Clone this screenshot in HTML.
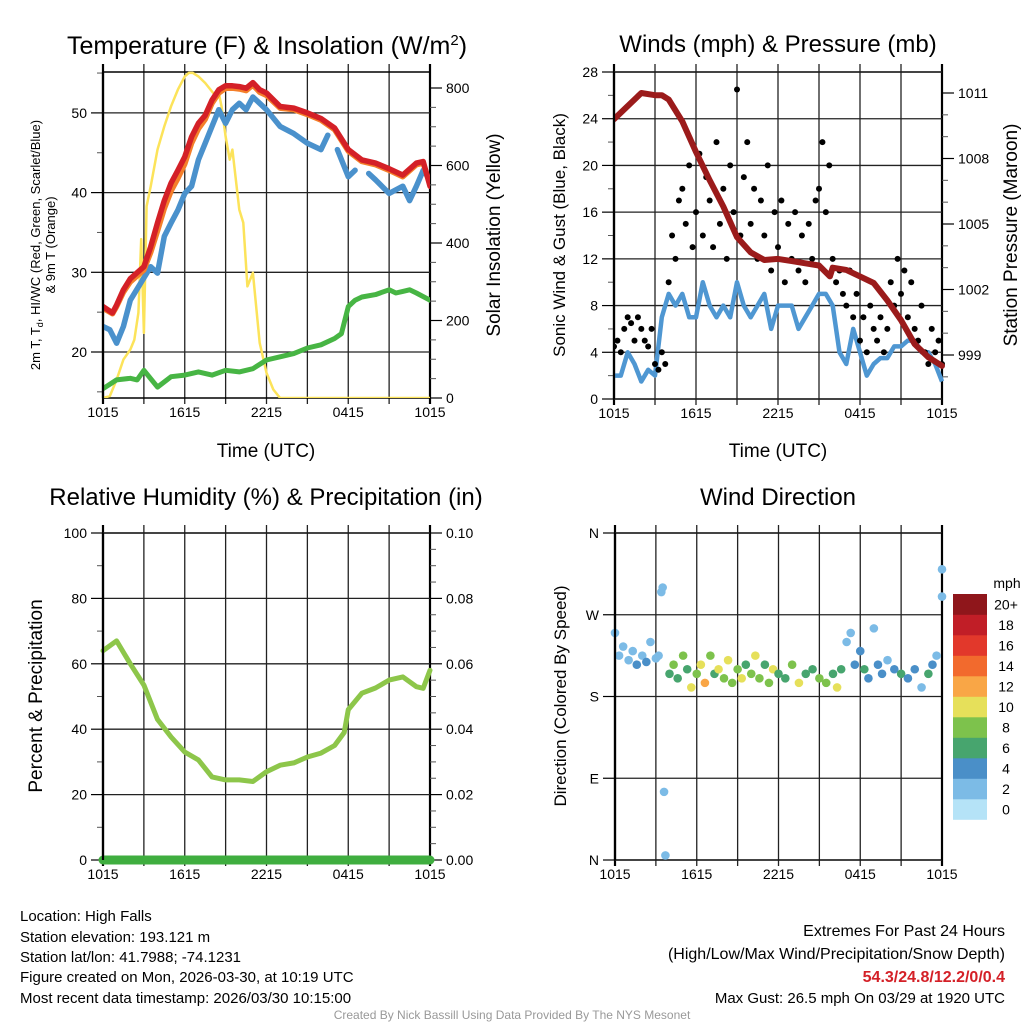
<!DOCTYPE html>
<html><head><meta charset="utf-8">
<style>
html,body{margin:0;padding:0;background:#fff;}
svg{display:block;font-family:"Liberation Sans",sans-serif;}
</style></head>
<body>
<svg id="chart" width="1024" height="1024" viewBox="0 0 1024 1024" xmlns="http://www.w3.org/2000/svg">
</svg>
<script>
// ---------- DATA ----------
const timeTickLabels = ["1015","1615","2215","0415","1015"];
const tempHours = [0,0.7,1,1.5,2,3,3.5,4,4.5,5,5.5,6,6.5,7,7.5,8,8.5,9,9.5,10,10.5,11,11.5,12,13,14,15,16,17,18,19,20,21,22,23,23.5,24];
const tempRed   = [25.7,24.9,25.9,27.8,29.2,30.7,33.2,36.2,39,41.2,42.8,44.5,47,48.7,49.7,51.6,52.9,53.4,53.4,53.3,53.1,53.8,52.9,52.5,50.8,50.6,50,49.3,48.1,45.4,44.1,43.7,43,42.2,43.7,43.9,40.8];
const tempOrange= [25.5,24.8,25.7,27.5,28.8,30.3,32.5,35.2,38,40.2,41.8,43.6,46.2,48,49.2,51.2,52.5,53.1,53.1,53,52.8,53.5,52.6,52.2,50.6,50.4,49.8,49.1,47.9,45.2,43.9,43.5,42.8,42,43.5,43.7,41];
const blueHours = [0,0.5,1,1.5,2,3.5,4,4.5,5,5.5,6,6.5,7,7.5,8,8.5,9,9.5,10,10.5,11,11.5,12,13,14,15,16,16.5,null,17.2,18,18.5,null,19.5,20,21,22,22.5,23,23.5,24];
const tempBlue  = [23.2,22.8,21.1,23.2,26.5,30.7,29.9,34.5,36.2,37.8,39.9,40.8,44.1,46.2,48.3,50.4,48.7,50.4,51.2,50.4,52,51.2,50.4,48.3,47.4,46.2,45.4,47.2,null,45.4,42,42.8,null,42.4,41.6,39.9,40.8,39,40.8,42.8,41.6];
const greenHours= [0,1,2,2.5,3,4,5,6,7,8,9,10,11,12,13,14,15,16,17,17.5,18,18.5,19,20,21,21.5,22,22.5,23,24];
const tempGreen = [15.4,16.5,16.7,16.5,17.7,15.6,16.9,17.1,17.5,17.1,17.7,17.5,17.9,19,19.4,19.8,20.5,20.9,21.7,22.3,25.7,26.5,26.9,27.2,27.8,27.4,27.6,27.8,27.4,26.5];
const solarHours= [0,0.5,1,1.5,2,2.3,2.6,2.8,3,3.2,3.5,4,4.5,5,5.5,6,6.3,6.6,7,7.5,8,8.3,8.5,8.7,9,9.3,9.5,10,10.3,10.6,11,11.5,12,12.5,13,24];
const solarVals = [0,5,47,99,125,150,220,410,168,495,546,641,701,753,796,830,839,839,830,813,791,778,787,753,675,615,641,486,452,288,323,142,65,22,0,0];
const windHours = [0,0.5,1,1.5,2,2.5,3,3.5,4,4.5,5,5.5,6,6.5,7,7.5,8,8.5,9,9.5,10,10.5,11,11.5,12,12.5,13,13.5,14,14.5,15,15.5,16,16.5,17,17.5,18,18.5,19,19.5,20,20.5,21,21.5,22,22.5,23,23.5,24];
const windSpeed = [2,2,4,3,1.5,2.5,2,7,9,8,9,7,7,10,8,7,8,7,10,8,7,8,9,6,8,8,8,6,7,8,9,9,8,4,3,6,4,2,3,3.5,3.5,4.5,4.5,5,5,4,4,3,1.5];
const gustVals = [4.5,5,4,6,7,6.5,5,7,6,5,4.5,6,3,2.5,4,3,10,14,12,17,18,15,20,13,16,21,14,19,17,13,22,15,18,12,20,16,26.5,14,19,22,15,18,12,17,14,20,11,16,13,17,10,15,12,16,11,14,10,15,12,17,18,22,16,20,12,10,11,9,8,11,7,9,5,7,4,8,6,5,7,4,6,10,8,12,9,11,7,10,6,5,8,4,3,6,4,5,3];
const presHours = [0,1,2,3,3.5,4,5,6,7,8,9,10,11,12,13,14,15,15.8,16,17,18,19,20,21,22,23,24];
const presVals  = [1009.8,1010.4,1011,1010.9,1010.9,1010.7,1009.7,1008.3,1007,1005.8,1004.4,1003.7,1003.35,1003.4,1003.3,1003.2,1003.1,1002.6,1003,1002.9,1002.6,1002.3,1001.5,1000.6,999.5,998.9,998.5];
const rhHours = [0,1,2,3,4,5,6,7,8,9,10,11,12,13,14,15,16,17,17.7,18,19,20,21,22,23,23.5,24];
const rhVals  = [64,67,60,53.5,43,37.6,33,30.6,25.4,24.5,24.5,24,27,29,29.7,31.5,32.7,35,39,46,51,52.6,55,56,53,52.5,58];
const precipHours = [0,24];
const precipVals  = [0,0];
const dirHours = [0,0.3,0.6,1,1.3,1.6,2,2.3,2.6,3,3.2,3.4,3.5,3.6,3.7,4,4.3,4.6,5,5.3,5.6,6,6.3,6.6,7,7.3,7.6,8,8.3,8.6,9,9.3,9.6,10,10.3,10.6,11,11.3,11.6,12,12.5,13,13.5,14,14.5,15,15.5,16,16.3,16.6,17,17.3,17.6,18,18.3,18.6,19,19.3,19.6,20,20.5,21,21.5,22,22.5,23,23.3,23.6,24,24];
const dirDeg = [250,225,235,220,230,215,225,218,240,222,225,295,300,75,5,205,215,200,225,210,190,205,215,195,225,205,210,200,220,195,210,200,215,205,225,200,215,195,210,205,200,215,195,205,210,200,195,205,190,210,240,250,215,230,210,200,255,215,205,220,210,205,200,210,190,205,215,225,290,320];
const dirSpd = [3,2,2,3,2,4,3,4,2,3,2,2,2,2,2,7,8,6,9,7,11,8,10,12,9,7,11,8,10,9,8,11,7,9,10,8,7,9,11,6,7,8,10,6,7,9,8,6,10,7,3,2,5,4,6,4,2,5,4,3,4,6,5,4,2,6,4,3,2,2];
const cbLabels = ["0","2","4","6","8","10","12","14","16","18","20+"];
const cbColors = ["#b5e3f7","#7cbbe6","#4a8fc8","#47a56e","#7dc24c","#e6e05a","#f9a646","#f26a2d","#e2382b","#c11e27","#8f161b"];

// ---------- HELPERS ----------
const NS="http://www.w3.org/2000/svg";
const svg=document.getElementById('chart');
function mk(tag,attrs,parent){const e=document.createElementNS(NS,tag);for(const k in attrs)e.setAttribute(k,attrs[k]);(parent||svg).appendChild(e);return e;}
function txt(s,x,y,size,anchor,parent,extra){const t=mk('text',Object.assign({x:x,y:y,'font-size':size,'text-anchor':anchor||'middle',fill:'#000'},extra||{}),parent);t.textContent=s;return t;}
function lin(d0,d1,r0,r1){return v=>r0+(v-d0)*(r1-r0)/(d1-d0);}
function pathFrom(xs,ys,fx,fy){let d='',pen=false;for(let i=0;i<xs.length;i++){if(xs[i]===null||ys[i]===null){pen=false;continue;}d+=(pen?'L':'M')+fx(xs[i]).toFixed(1)+','+fy(ys[i]).toFixed(1);pen=true;}return d;}
function spdColor(s){let i=Math.floor(s/2);if(i>10)i=10;if(i<0)i=0;return cbColors[i];}

function frame(g,L,R,T,B){
  const fx=lin(0,24,L,R);
  for(let h=0;h<=24;h+=3){
    const x=fx(h);
    const gl=mk('line',{x1:x,y1:T-8,x2:x,y2:B+6,stroke:(h===0||h===24)?'#000':'#222','stroke-width':(h===0||h===24)?2.2:1.3},g);
    
    
  }
  const tl=mk('line',{x1:L,y1:T,x2:R,y2:T,stroke:'#000','stroke-width':1.6},g);
  
  const bl=mk('line',{x1:L,y1:B,x2:R,y2:B,stroke:'#000','stroke-width':1.6},g);
  
  for(let i=0;i<timeTickLabels.length;i++){
    const t=txt(timeTickLabels[i],fx(i*6),B+19,14,'middle',g);
    
  }
  return fx;
}
function yAxis(g,side,X,fy,T,B,majors,minors,labels,grid,L,R,name){
  const dir=side==='left'?-1:1;
  for(const v of minors){const y=fy(v);const m=mk('line',{x1:X,y1:y,x2:X+dir*6,y2:y,stroke:'#555','stroke-width':1},g);}
  majors.forEach((v,i)=>{const y=fy(v);
    if(grid){const gl=mk('line',{x1:L,y1:y,x2:R,y2:y,stroke:'#222','stroke-width':1.3},g);}
    const tk=mk('line',{x1:X,y1:y,x2:X+dir*12,y2:y,stroke:'#000','stroke-width':1.2},g);
    const t=txt(labels[i],X+dir*16,y+5,14,side==='left'?'end':'start',g);
  });
}
function range(a,b,s){const r=[];for(let v=a;v<=b+1e-9;v+=s)r.push(+v.toFixed(4));return r;}

// ---------- PANEL 1: TEMPERATURE ----------
(function(){
  const g=mk('g',{});
  const L=103,R=430,T=72,B=398;
  const fx=frame(g,L,R,T,B);
  const fy=lin(20,30,352,272.3);
  const fs=lin(0,800,398,88);
  yAxis(g,'left',L,fy,T,B,[20,30,40,50],[15,25,35,45,55],["20","30","40","50"],true,L,R,'temp-axis');
  yAxis(g,'right',R,fs,T,B,[0,200,400,600,800],range(50,750,50).filter(v=>v%200!==0),["0","200","400","600","800"],false,L,R,'solar-axis');
  const clip=mk('clipPath',{id:'c1'},g);mk('rect',{x:L,y:T-3,width:R-L,height:B-T+3},clip);
  const pg=mk('g',{'clip-path':'url(#c1)'},g);
  const sol=mk('path',{d:pathFrom(solarHours,solarVals,fx,fs),fill:'none',stroke:'#fce35a','stroke-width':2.5,'stroke-linejoin':'round'},pg);
  
  const gr=mk('path',{d:pathFrom(greenHours,tempGreen,fx,fy),fill:'none',stroke:'#47b544','stroke-width':5,'stroke-linejoin':'round','stroke-linecap':'round'},pg);
  
  const bl=mk('path',{d:pathFrom(blueHours,tempBlue,fx,fy),fill:'none',stroke:'#4a91cc','stroke-width':5.5,'stroke-linejoin':'round','stroke-linecap':'round'},pg);
  
  const or=mk('path',{d:pathFrom(tempHours,tempOrange,fx,fy),fill:'none',stroke:'#f47f2a','stroke-width':5.5,'stroke-linejoin':'round','stroke-linecap':'round'},pg);
  
  const rd=mk('path',{d:pathFrom(tempHours,tempRed,fx,fy),fill:'none',stroke:'#d42027','stroke-width':5.5,'stroke-linejoin':'round','stroke-linecap':'round'},pg);
  
  const lb=mk('line',{x1:L,y1:T,x2:L,y2:B,stroke:'#000','stroke-width':2.2},g);
  const t=mk('text',{x:267,y:54,'font-size':25,'text-anchor':'middle'},g);
  t.innerHTML='Temperature (F) &amp; Insolation (W/m<tspan dy="-9" font-size="15">2</tspan><tspan dy="9">)</tspan>';
  const xt=txt('Time (UTC)',266,457,19,'middle',g);
  const yl=mk('text',{transform:'translate(40,245) rotate(-90)','font-size':13,'text-anchor':'middle'},g);
  yl.innerHTML='2m T, T<tspan font-size="9" dy="3">d</tspan><tspan dy="-3">, HI/WC (Red, Green, Scarlet/Blue)</tspan>';
  const yl2=txt('& 9m T (Orange)',0,0,13,'middle',g,{transform:'translate(55,245) rotate(-90)'});
  const yr=txt('Solar Insolation (Yellow)',0,0,19,'middle',g,{transform:'translate(500,235) rotate(-90)'});
})();

// ---------- PANEL 2: WINDS ----------
(function(){
  const g=mk('g',{});
  const L=614,R=942,T=72,B=399;
  const fx=frame(g,L,R,T,B);
  const fy=lin(0,28,399,72);
  const fp=lin(999,1011,355,93);
  yAxis(g,'left',L,fy,T,B,range(0,28,4),range(2,26,4),range(0,28,4).map(String),true,L,R,'wind-axis');
  yAxis(g,'right',R,fp,T,B,[999,1002,1005,1008,1011],[998,1000,1001,1003,1004,1006,1007,1009,1010],["999","1002","1005","1008","1011"],false,L,R,'pressure-axis');
  const clip=mk('clipPath',{id:'c2'},g);mk('rect',{x:L,y:T-5,width:R-L+4,height:B-T+5},clip);
  const pg=mk('g',{'clip-path':'url(#c2)'},g);
  const ws=mk('path',{d:pathFrom(windHours,windSpeed,fx,fy),fill:'none',stroke:'#4f97d2','stroke-width':4.5,'stroke-linejoin':'round'},pg);
  
  gustVals.forEach((v,i)=>{const c=mk('circle',{cx:fx(i*0.25),cy:fy(v),r:3,fill:'#000'},pg);
    
    });
  const pr=mk('path',{d:pathFrom(presHours,presVals,fx,fp),fill:'none',stroke:'#9b1b1b','stroke-width':6,'stroke-linejoin':'round','stroke-linecap':'round'},pg);
  
  const lb=mk('line',{x1:L,y1:T,x2:L,y2:B,stroke:'#000','stroke-width':2.2},g);
  const t=txt('Winds (mph) & Pressure (mb)',778,52,24,'middle',g);
  const xt=txt('Time (UTC)',778,457,19,'middle',g);
  const yl=txt('Sonic Wind & Gust (Blue, Black)',0,0,17,'middle',g,{transform:'translate(565,235) rotate(-90)'});
  const yr=txt('Station Pressure (Maroon)',0,0,19,'middle',g,{transform:'translate(1017,235) rotate(-90)'});
})();

// ---------- PANEL 3: RH ----------
(function(){
  const g=mk('g',{});
  const L=103,R=430,T=533,B=860;
  const fx=frame(g,L,R,T,B);
  const fy=lin(0,100,860,533);
  const fpr=lin(0,0.1,860,533);
  yAxis(g,'left',L,fy,T,B,range(0,100,20),range(10,90,20),range(0,100,20).map(String),true,L,R,'rh-axis');
  yAxis(g,'right',R,fpr,T,B,range(0,0.1,0.02),range(0.005,0.095,0.005).filter(v=>Math.abs((v*100)%2)>0.01),["0.00","0.02","0.04","0.06","0.08","0.10"],false,L,R,'precip-axis');
  const rh=mk('path',{d:pathFrom(rhHours,rhVals,fx,fy),fill:'none',stroke:'#8dc64a','stroke-width':5,'stroke-linejoin':'round','stroke-linecap':'round'},g);
  
  const pc=mk('path',{d:pathFrom(precipHours,precipVals,fx,fpr),fill:'none',stroke:'#3fae3f','stroke-width':9,'stroke-linecap':'round'},g);
  
  const lb=mk('line',{x1:L,y1:T,x2:L,y2:B,stroke:'#000','stroke-width':2.2},g);
  const t=txt('Relative Humidity (%) & Precipitation (in)',266,505,24,'middle',g);
  const yl=txt('Percent & Precipitation',0,0,19,'middle',g,{transform:'translate(42,696) rotate(-90)'});
})();

// ---------- PANEL 4: WIND DIRECTION ----------
(function(){
  const g=mk('g',{});
  const L=615,R=942,T=533,B=860;
  const fx=frame(g,L,R,T,B);
  const fy=lin(0,360,860,533);
  yAxis(g,'left',L,fy,T,B,[0,90,180,270,360],[],["N","E","S","W","N"],true,L,R,'direction-axis');
  const rl=mk('line',{x1:R,y1:T,x2:R,y2:B,stroke:'#000','stroke-width':2},g);
  for(let i=0;i<dirHours.length&&i<dirDeg.length&&i<dirSpd.length;i++){
    const c=mk('circle',{cx:fx(dirHours[i]),cy:fy(dirDeg[i]),r:4.3,fill:spdColor(dirSpd[i])},g);
    
    
  }
  const lb=mk('line',{x1:L,y1:T,x2:L,y2:B,stroke:'#000','stroke-width':2.2},g);
  const t=txt('Wind Direction',778,505,24,'middle',g);
  const yl=txt('Direction (Colored By Speed)',0,0,17,'middle',g,{transform:'translate(566,696) rotate(-90)'});
  const cb=mk('g',{},g);
  const cbTop=594,cbH=20.5;
  for(let i=0;i<cbColors.length;i++){
    const y=cbTop+(10-i)*cbH;
    const r=mk('rect',{x:953,y:y,width:34,height:cbH+0.3,fill:cbColors[i]},cb);
    
    const tl=txt(cbLabels[i],1006,y+cbH/2+5,14,'middle',cb);
  }
  const u=txt('mph',1007,588,14,'middle',cb);
})();

// ---------- FOOTER TEXT ----------
(function(){
  const g=mk('g',{});
  const lines=["Location: High Falls","Station elevation: 193.121 m","Station lat/lon: 41.7988; -74.1231","Figure created on Mon, 2026-03-30, at 10:19 UTC","Most recent data timestamp: 2026/03/30 10:15:00"];
  const ys=[921,942,962,982,1003];
  lines.forEach((s,i)=>{const t=txt(s,20,ys[i],15,'start',g);});
  const g2=mk('g',{});
  let t=txt('Extremes For Past 24 Hours',1005,936,16,'end',g2);
  t=txt('(High/Low/Max Wind/Precipitation/Snow Depth)',1005,959,16,'end',g2);
  t=txt('54.3/24.8/12.2/0/0.4',1005,982,16,'end',g2,{fill:'#d42027','font-weight':'bold'});
  t=txt('Max Gust: 26.5 mph On 03/29 at 1920 UTC',1005,1003,15,'end',g2);
  t=txt('Created By Nick Bassill Using Data Provided By The NYS Mesonet',512,1019,12,'middle',svg,{fill:'#999'});
})();
</script>
</body></html>
